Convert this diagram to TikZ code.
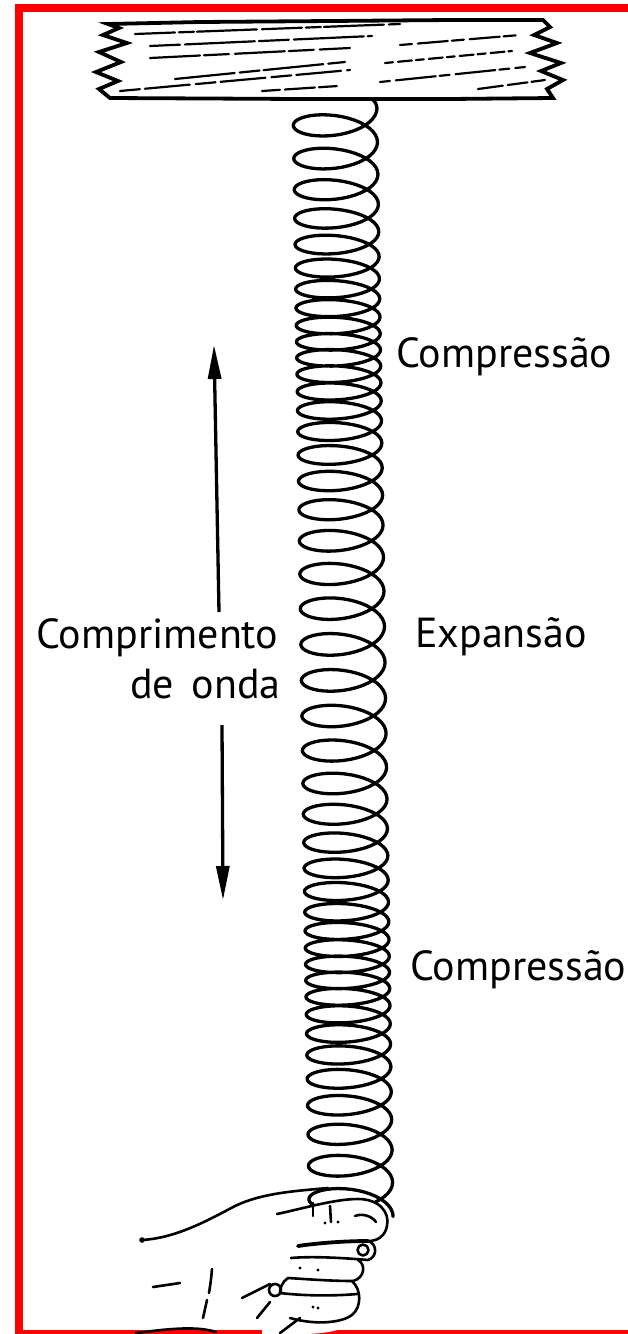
\documentclass[tikz,border=0pt]{standalone}
\usepackage{fontspec}
\setmainfont{PT Sans}
\usetikzlibrary{arrows.meta}
\begin{document}
\begin{tikzpicture}[x=1pt,y=-1pt,
  wire/.style={line width=3.3pt, line join=round, line cap=round},
  plank/.style={fill=white, draw=black, line width=3.8pt, line join=miter},
  grain/.style={line width=2.2pt, line cap=round},
  handline/.style={line width=2.6pt, line cap=round, line join=round},
  lbl/.style={inner sep=0pt, font=\fontsize{42}{48}\selectfont},
  wlarrow/.style={line width=3.3pt, -{Triangle[length=34pt,width=13pt]}},
]
\useasboundingbox (0,0) rectangle (628,1334);
\fill[white] (0,0) rectangle (628,1334);

% frame
\fill[red] (15,4) rectangle (628,12);
\fill[red] (15,4) rectangle (23,1334);
\fill[red] (15,1330) rectangle (628,1334);

% wooden plank with torn ends
\draw[plank] (108,24) -- (200,22) -- (330,21) -- (450,20) -- (543,20)
  -- (550,27) -- (534,35) -- (557,43) -- (530,53) -- (561,63) -- (541,71)
  -- (563,80) -- (547,89) -- (553,98) -- (450,99) -- (300,99) -- (110,98)
  -- (99,89) -- (118,81) -- (96,72) -- (121,62) -- (99,52) -- (127,43)
  -- (103,35) -- (119,28) -- cycle;
% wood grain
\draw[grain, dash pattern=on 40pt off 4pt on 15pt off 3pt on 60pt off 5pt] (135,34) -- (400,24);
\draw[grain, dash pattern=on 30pt off 5pt on 70pt off 4pt] (150,46) -- (372,36);
\draw[grain, dash pattern=on 12pt off 6pt on 30pt off 4pt] (400,45) -- (520,35);
\draw[grain, dash pattern=on 50pt off 4pt on 25pt off 6pt] (150,58) -- (350,48);
\draw[grain, dash pattern=on 8pt off 5pt on 14pt off 4pt] (385,63) -- (512,51);
\draw[grain, dash pattern=on 60pt off 5pt on 20pt off 4pt] (175,79) -- (345,62);
\draw[grain, dash pattern=on 20pt off 5pt on 45pt off 6pt] (120,91) -- (350,70);
\draw[grain, dash pattern=on 10pt off 6pt on 40pt off 4pt] (380,82) -- (525,67);
\draw[grain, dash pattern=on 18pt off 5pt on 30pt off 4pt] (262,91) -- (338,86);
\draw[grain, dash pattern=on 25pt off 5pt on 20pt off 4pt] (478,89) -- (545,80);

% the spring: a helix whose pitch varies along its length,
% sampled 40 times per turn
\foreach \k in {0,...,1760}{
  \pgfmathsetmacro\uu{\k/40}
  \pgfmathsetmacro\ph{15.094*(\uu-10.01)}
  \pgfmathsetmacro\yy{89.74+26*\uu-37.96*sin(\ph)}
  \pgfmathsetmacro\pp{26-10*cos(\ph)}
  \pgfmathsetmacro\bb{6.4+0.35*\pp}
  \pgfmathsetmacro\xx{335+0.014545*(\yy-108)}
  \pgfmathsetmacro\an{9*mod(\k,40)}
  \pgfmathsetmacro\px{\xx+42*cos(\an)}
  \pgfmathsetmacro\py{\yy+\bb*sin(\an)}
  \coordinate (h\k) at (\px,\py);
}
\coordinate (springTop) at (372,99);
\draw[wire] (springTop) .. controls (376,103) .. (h0)
  \foreach \k in {1,...,1760}{ -- (h\k) };

% hand holding the lower end
\fill[white] (277,1213) .. controls (305,1207) and (335,1198) .. (358,1198)
  .. controls (380,1198) and (392,1214) .. (388,1228) -- (378,1245) -- (370,1262)
  -- (363,1283) -- (362,1310) .. controls (358,1325) and (340,1334) .. (300,1334)
  -- (262,1334) -- (262,1290) -- cycle;
\draw[handline] (142,1240) .. controls (175,1238) and (205,1222) .. (235,1206)
  .. controls (262,1193) and (295,1191) .. (328,1188);
\fill (142,1240) circle (2.8);
\draw[handline] (277,1214) .. controls (305,1208) and (335,1199) .. (358,1199)
  .. controls (379,1199) and (390,1212) .. (387,1226)
  .. controls (385,1236) and (378,1241) .. (368,1241);
\draw[handline, line width=3.8pt] (368,1241) .. controls (345,1241) and (318,1243) .. (298,1246);
\draw[handline] (313,1203) -- (313,1216);
\draw[handline] (330,1206) -- (331,1222);
\fill (325,1223) circle (1.6) (338,1222) circle (1.6);
\draw[handline] (355,1216) .. controls (362,1213) and (372,1216) .. (376,1222);
\draw[handline] (368,1241) .. controls (377,1243) and (378,1257) .. (368,1260)
  .. controls (345,1258) and (312,1256) .. (291,1258);
\draw[handline] (363,1250) circle (5.5);
\draw[handline] (358,1260) .. controls (366,1264) and (365,1278) .. (353,1281)
  .. controls (330,1281) and (305,1279) .. (288,1278)
  .. controls (282,1282) and (280,1288) .. (280,1293);
\fill (300,1268) circle (1.6) (318,1270) circle (1.6);
\draw[handline] (352,1281) .. controls (362,1290) and (361,1307) .. (353,1314)
  .. controls (345,1322) and (318,1326) .. (290,1318);
\draw[handline] (280,1293) .. controls (305,1296) and (335,1296) .. (357,1294);
\draw[handline] (275,1290) circle (6);
\fill (313,1307) circle (1.6) (318,1308) circle (1.6);
\draw[handline] (242,1298) -- (270,1284);
\draw[handline] (257,1318) -- (270,1302);
\draw[handline] (280,1333) -- (300,1318);
\draw[handline] (153,1287) -- (180,1283);
\draw[handline] (212,1269) .. controls (211,1280) .. (209,1293);
\draw[handline] (207,1300) -- (203,1318);
\draw[handline] (136,1333) .. controls (160,1330) and (195,1325) .. (216,1332);

% labels
\node[lbl, anchor=base west] (comp1) at (396,367) {Compressão};
\node[lbl, anchor=base west] (expn) at (415,647) {Expansão};
\node[lbl, anchor=base west] (comp2) at (410,980) {Compressão};
\node[lbl, anchor=base west] (wl1) at (36,648) {Comprimento};
\node[lbl, anchor=base west] (wl2) at (130,698) {de\hspace{0.15em} onda};

% wavelength arrows
\coordinate (upTail) at (219,612);
\coordinate (upTip) at (214,345);
\coordinate (dnTail) at (222,725);
\coordinate (dnTip) at (223,900);
\draw[wlarrow] (upTail) -- (upTip);
\draw[wlarrow] (dnTail) -- (dnTip);
\end{tikzpicture}
\end{document}
